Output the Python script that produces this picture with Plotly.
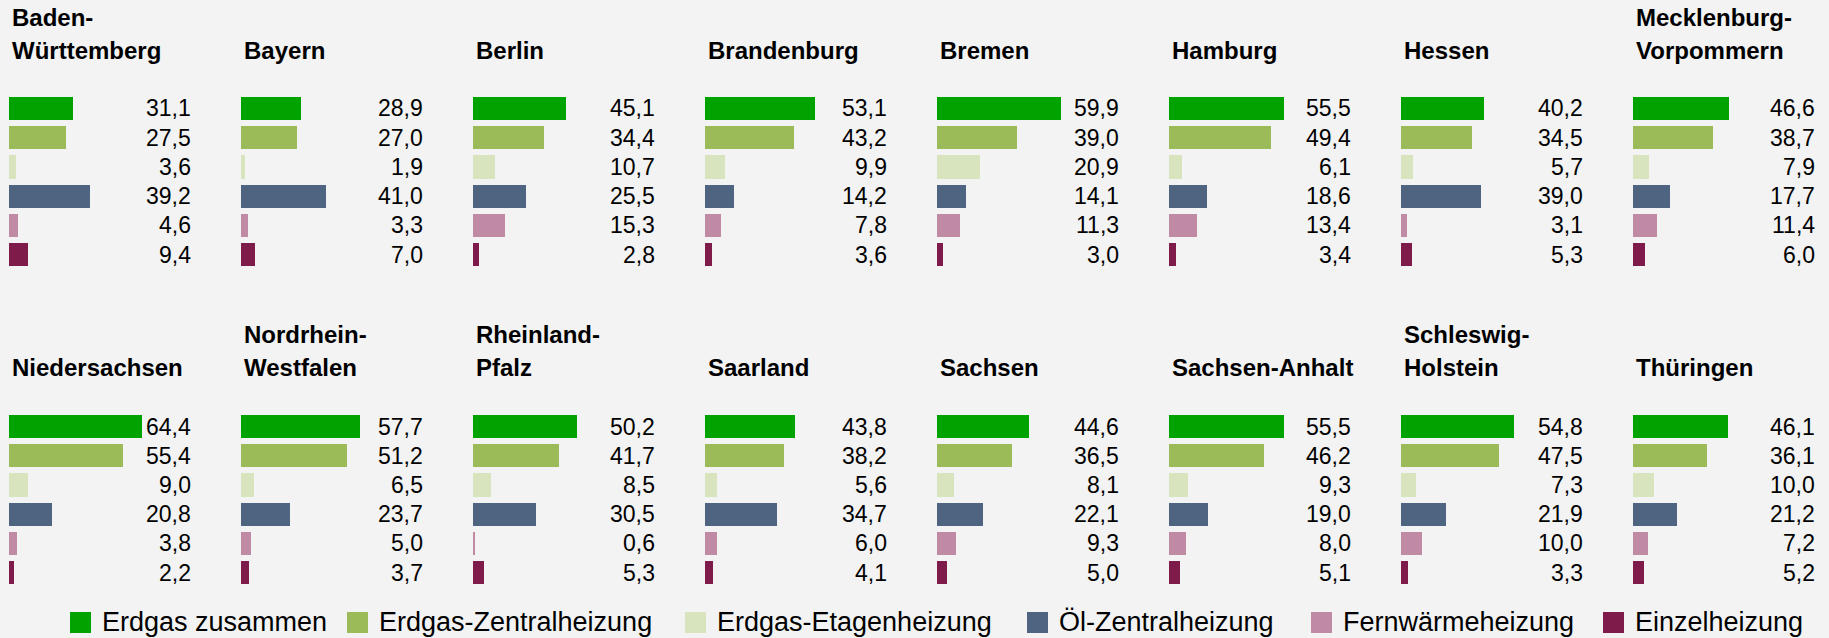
import plotly.graph_objects as go

# ---- data ----
categories = ["Erdgas zusammen", "Erdgas-Zentralheizung", "Erdgas-Etagenheizung",
              "Öl-Zentralheizung", "Fernwärmeheizung", "Einzelheizung"]
states = ["Baden-Württemberg", "Bayern", "Berlin", "Brandenburg", "Bremen", "Hamburg",
          "Hessen", "Mecklenburg-Vorpommern", "Niedersachsen", "Nordrhein-Westfalen",
          "Rheinland-Pfalz", "Saarland", "Sachsen", "Sachsen-Anhalt",
          "Schleswig-Holstein", "Thüringen"]
title_lines = [["Baden-", "Württemberg"], ["Bayern"], ["Berlin"], ["Brandenburg"],
               ["Bremen"], ["Hamburg"], ["Hessen"], ["Mecklenburg-", "Vorpommern"],
               ["Niedersachsen"], ["Nordrhein-", "Westfalen"], ["Rheinland-", "Pfalz"],
               ["Saarland"], ["Sachsen"], ["Sachsen-Anhalt"], ["Schleswig-", "Holstein"],
               ["Thüringen"]]
erdgas_zusammen = [31.1, 28.9, 45.1, 53.1, 59.9, 55.5, 40.2, 46.6,
                   64.4, 57.7, 50.2, 43.8, 44.6, 55.5, 54.8, 46.1]
erdgas_zentral = [27.5, 27.0, 34.4, 43.2, 39.0, 49.4, 34.5, 38.7,
                  55.4, 51.2, 41.7, 38.2, 36.5, 46.2, 47.5, 36.1]
erdgas_etage = [3.6, 1.9, 10.7, 9.9, 20.9, 6.1, 5.7, 7.9,
                9.0, 6.5, 8.5, 5.6, 8.1, 9.3, 7.3, 10.0]
oel_zentral = [39.2, 41.0, 25.5, 14.2, 14.1, 18.6, 39.0, 17.7,
               20.8, 23.7, 30.5, 34.7, 22.1, 19.0, 21.9, 21.2]
fernwaerme = [4.6, 3.3, 15.3, 7.8, 11.3, 13.4, 3.1, 11.4,
              3.8, 5.0, 0.6, 6.0, 9.3, 8.0, 10.0, 7.2]
einzel = [9.4, 7.0, 2.8, 3.6, 3.0, 3.4, 5.3, 6.0,
          2.2, 3.7, 5.3, 4.1, 5.0, 5.1, 3.3, 5.2]
series = [erdgas_zusammen, erdgas_zentral, erdgas_etage, oel_zentral, fernwaerme, einzel]

colors = ["#00a300", "#9bbb59", "#d7e4bd", "#4f6480", "#c08aa5", "#7e1b4b"]

# ---- layout constants (pixels) ----
W, H = 1829, 638
BG = "#f3f3f3"
FONT = "Liberation Sans, Arial, sans-serif"
PANEL_DX = 232
BAR_X0 = 9
AX_W = 183
ROW_DY = 318
Y_TOP0 = 93.9
PITCH = 29.2
X_MAX = 88.7

fig = go.Figure()
annotations = []
shapes = []
layout_axes = {}


def px_y(y):
    return 1 - y / H


for i, st in enumerate(states):
    row, col = divmod(i, 8)
    suf = "" if i == 0 else str(i + 1)
    x0 = BAR_X0 + PANEL_DX * col
    ytop = Y_TOP0 + ROW_DY * row
    ybot = ytop + PITCH * 6
    vals = [s[i] for s in series]
    fig.add_trace(go.Bar(
        x=vals, y=categories, orientation="h", width=0.79,
        marker=dict(color=colors, line=dict(width=0)),
        xaxis="x" + suf, yaxis="y" + suf, name=st, showlegend=False,
        hovertemplate="%{y}: %{x}<extra>" + st + "</extra>",
    ))
    layout_axes["xaxis" + suf] = dict(domain=[x0 / W, (x0 + AX_W) / W], range=[0, X_MAX],
                                      visible=False, fixedrange=True, anchor="y" + suf)
    layout_axes["yaxis" + suf] = dict(domain=[px_y(ybot), px_y(ytop)], type="category",
                                      categoryorder="array", categoryarray=categories,
                                      range=[5.5, -0.5], visible=False, fixedrange=True,
                                      anchor="x" + suf)
    for c, v in zip(categories, vals):
        annotations.append(dict(
            x=1, xref="x" + suf + " domain", y=c, yref="y" + suf,
            text=f"{v:.1f}".replace(".", ","), showarrow=False,
            xanchor="right", yanchor="middle", borderpad=0,
            font=dict(family=FONT, size=23, color="#000000"),
        ))
    # titles
    lines = title_lines[i]
    base2 = 59 + 317 * row
    base1 = 26 + 317 * row
    bases = [base1, base2] if len(lines) == 2 else [base2]
    for ln, b in zip(lines, bases):
        annotations.append(dict(
            x=(x0 + 2) / W, xref="paper", y=px_y(b - 8.3), yref="paper",
            text="<b>" + ln + "</b>", showarrow=False, xanchor="left", yanchor="middle",
            borderpad=0, font=dict(family=FONT, size=24, color="#000000"),
        ))

# legend (manual)
leg_x = [70, 347, 685, 1027, 1311, 1603]
for cat, col, lx in zip(categories, colors, leg_x):
    shapes.append(dict(type="rect", xref="paper", yref="paper",
                       x0=lx / W, x1=(lx + 21) / W, y0=px_y(633), y1=px_y(612),
                       fillcolor=col, line=dict(width=0)))
    annotations.append(dict(
        x=(lx + 31) / W, xref="paper", y=px_y(622.3), yref="paper", text=cat,
        showarrow=False, xanchor="left", yanchor="middle", borderpad=0,
        font=dict(family=FONT, size=27, color="#000000"),
    ))

fig.update_layout(
    width=W, height=H, margin=dict(l=0, r=0, t=0, b=0),
    paper_bgcolor=BG, plot_bgcolor=BG, showlegend=False,
    bargap=0, annotations=annotations, shapes=shapes,
    font=dict(family=FONT),
    **layout_axes,
)

fig.write_html(
    "out.html",
    config={"displayModeBar": False},
    post_script="document.body.style.margin='0';document.body.style.padding='0';"
                "document.body.style.overflow='hidden';"
                "document.body.style.background='" + BG + "';",
)
